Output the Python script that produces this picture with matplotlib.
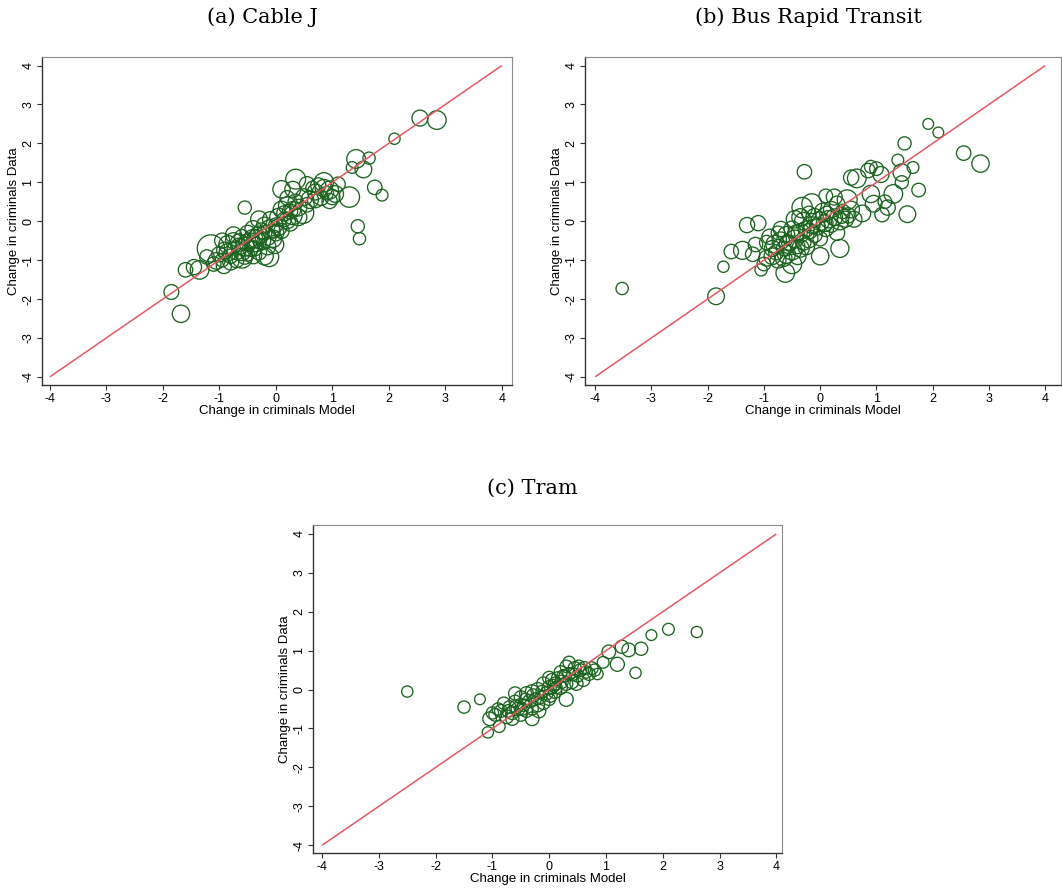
import matplotlib
matplotlib.use("Agg")
import matplotlib.pyplot as plt
import numpy as np

# ---------------------------------------------------------------
# Data: change in criminals, model prediction (x) vs data (y),
# with a weight per neighbourhood that sets the circle size.
# ---------------------------------------------------------------

# (a) Cable J
cable_x = [2.85, 2.55, 2.10, 1.65, 1.42, 1.55, 1.35, 1.75, 1.88, 1.45, 1.48, 1.30,
           1.10, 1.00, 0.90, 0.85, 0.75, 0.65, 0.95, 0.35, 0.30, 0.10, 0.50, 0.48,
           0.55, 0.30, 0.20, -0.55, -1.15, -1.22, -1.05, -1.35, -1.60, -1.45, -1.85,
           -1.68, -0.12, -0.60, -0.40, -0.80, -0.92,
           -1.00, -0.95, -0.90, -0.85, -0.80, -0.75, -0.70, -0.70, -0.65, -0.60,
           -0.60, -0.55, -0.50, -0.50, -0.50, -0.45, -0.40, -0.40, -0.35, -0.30,
           -0.30, -0.25, -0.20, -0.20, -0.15, -0.10, -0.10, -0.05, 0.00, 0.00,
           0.05, 0.10, 0.10, 0.15, 0.20, 0.25, 0.30, 0.35, 0.40, 0.60, 0.70,
           0.80, 0.95, 1.05, 0.55, 0.20, -0.30, -0.75, -0.95, -1.10, -0.20,
           -0.65, -0.45, -0.35, -0.25, -0.15, -0.05, 0.05, 0.15, -0.85, -0.55,
           0.25, 0.40, 0.70, 0.85, -0.02, -0.38]
cable_y = [2.60, 2.65, 2.12, 1.62, 1.60, 1.33, 1.38, 0.87, 0.67, -0.13, -0.45, 0.62,
           0.95, 0.62, 0.72, 1.00, 0.92, 0.85, 0.52, 1.08, 0.82, 0.82, 0.62, 0.22,
           0.42, 0.30, 0.02, 0.35, -0.70, -0.92, -1.02, -1.25, -1.25, -1.18, -1.82,
           -2.38, -0.92, -0.95, -0.88, -1.05, -1.15,
           -0.85, -1.00, -0.75, -0.60, -0.90, -0.50, -0.75, -1.00, -0.55, -0.40,
           -0.80, -0.65, -0.30, -0.55, -0.85, -0.70, -0.45, -0.20, -0.60, -0.35,
           -0.80, -0.50, -0.10, -0.30, -0.65, -0.20, 0.05, -0.45, -0.10, -0.30,
           0.10, -0.25, 0.30, 0.05, 0.40, -0.05, 0.15, 0.50, 0.35, 0.55, 0.75,
           0.60, 0.80, 0.70, 0.95, 0.60, 0.05, -0.35, -0.50, -1.10, -0.90,
           -0.65, -0.50, -0.45, -0.25, -0.40, -0.25, -0.15, 0.20, -0.80, -0.90,
           0.25, 0.10, 0.55, 0.85, -0.60, -0.70]
cable_w = [3.0, 2.2, 1.1, 1.3, 3.0, 2.4, 1.2, 1.8, 1.2, 1.5, 1.3, 3.6,
           1.8, 2.0, 1.6, 3.2, 2.0, 1.6, 2.0, 3.4, 2.2, 2.6, 2.4, 4.0,
           1.8, 2.2, 2.4, 1.5, 6.4, 1.8, 2.4, 3.0, 1.8, 2.0, 1.9,
           2.6, 3.2, 3.4, 2.4, 2.2, 2.0,
           2.0, 1.6, 2.4, 2.8, 1.8, 2.2, 3.0, 2.0, 2.6, 1.8,
           2.4, 3.2, 2.0, 2.6, 1.6, 2.2, 3.0, 2.4, 1.8, 2.6,
           2.0, 2.8, 2.2, 1.8, 2.4, 3.0, 2.0, 2.6, 1.8, 2.2,
           2.8, 2.0, 2.4, 1.8, 2.6, 2.2, 3.0, 2.0, 2.4, 2.6, 2.2,
           2.0, 2.8, 2.4, 2.0, 1.8, 2.4, 2.2, 2.0, 1.8, 2.6,
           2.4, 2.0, 2.8, 2.2, 2.6, 1.8, 2.4, 2.0, 2.6, 2.2,
           2.0, 2.4, 2.2, 2.6, 2.8, 2.0]

# (b) Bus Rapid Transit
brt_x = [-3.52, -1.85, -1.72, -1.58, -1.38, -1.30, -1.10, -1.20, -1.05, -1.00,
         -0.95, -0.85, -0.75, -0.65, -0.62, -0.50, -0.28, 0.00, 0.35, 1.10,
         1.55, 1.75, 1.45, 1.65, 1.38, 1.50, 1.92, 2.10, 2.55, 2.85,
         1.30, 1.15, 0.90, 0.75, 0.85, 0.65, 0.55, 0.90, 1.00, 1.08,
         1.45, 0.48, 0.50, 0.25, 0.10, -0.15, -0.32, -0.35,
         -0.90, -0.85, -0.80, -0.75, -0.70, -0.65, -0.60, -0.60, -0.55, -0.50,
         -0.50, -0.45, -0.40, -0.40, -0.35, -0.30, -0.30, -0.25, -0.20, -0.20,
         -0.15, -0.10, -0.10, -0.05, 0.00, 0.00, 0.05, 0.10, 0.15, 0.20,
         0.20, 0.25, 0.30, 0.35, 0.40, 0.45, 0.55, -0.45, -0.70, -1.15,
         -0.95, -0.25, 0.30, 0.60,
         -0.58, -0.42, -0.18, 0.08, 0.38, -0.78, -0.35, 0.12, 1.20, 0.95]
brt_y = [-1.73, -1.93, -1.17, -0.78, -0.75, -0.10, -0.05, -0.85, -1.25, -1.10,
         -0.55, -0.70, -0.30, -0.95, -1.33, -1.10, 1.27, -0.90, -0.70, 0.17,
         0.18, 0.80, 1.00, 1.38, 1.57, 2.00, 2.50, 2.28, 1.75, 1.48,
         0.70, 0.50, 0.70, 0.20, 1.30, 1.10, 1.12, 1.40, 1.35, 1.20,
         1.25, 0.55, 0.15, 0.62, 0.65, 0.45, 0.35, 0.10,
         -0.40, -0.90, -0.60, -1.00, -0.50, -0.70, -0.35, -0.85, -0.55, -0.75,
         -0.20, -0.45, -0.65, -0.90, -0.30, -0.55, 0.00, -0.20, -0.45, 0.20,
         -0.10, -0.35, 0.10, -0.15, 0.00, -0.45, 0.25, -0.20, 0.05, 0.30,
         -0.10, 0.10, 0.45, 0.00, 0.25, 0.05, 0.30, 0.05, -0.20, -0.60,
         -0.95, -0.65, -0.30, 0.05,
         -0.60, -0.30, -0.25, -0.05, 0.15, -0.80, -0.70, 0.20, 0.35, 0.45]
brt_w = [1.3, 2.4, 1.1, 1.8, 2.8, 2.0, 2.0, 1.8, 1.3, 1.6,
         1.8, 2.2, 1.6, 2.4, 3.0, 3.2, 1.8, 2.6, 2.8, 1.8,
         2.4, 1.6, 1.5, 1.2, 1.2, 1.5, 1.0, 1.0, 1.8, 2.6,
         3.0, 1.6, 2.6, 2.4, 1.8, 3.0, 2.0, 1.4, 1.6, 2.2,
         2.6, 3.4, 2.0, 2.2, 1.6, 3.4, 3.6, 2.6,
         2.0, 2.4, 3.0, 2.2, 2.6, 1.8, 2.4, 2.8, 2.0, 3.2,
         2.2, 2.6, 1.8, 2.4, 3.0, 2.0, 2.6, 2.2, 2.8, 1.8,
         2.4, 2.0, 2.6, 2.2, 3.0, 1.8, 2.4, 2.0, 2.6, 2.2,
         1.8, 2.4, 2.0, 2.6, 1.8, 2.2, 2.4, 2.6, 2.0, 1.8,
         2.2, 2.4, 2.0, 2.2,
         2.6, 2.2, 2.0, 2.4, 2.2, 2.0, 2.6, 1.8, 2.0, 2.4]

# (c) Tram
tram_x = [-2.50, -1.50, -1.22, -1.08, -0.88, -1.05, -1.00, -0.90, 2.60, 2.10,
          1.80, 1.62, 1.40, 1.28, 1.52, 1.20, 1.05, 0.85, 0.95, -0.30, 0.30,
          -0.85, -0.80, -0.75, -0.70, -0.65, -0.60, -0.55, -0.50, -0.50, -0.45,
          -0.40, -0.40, -0.35, -0.30, -0.30, -0.25, -0.20, -0.20, -0.15, -0.10,
          -0.10, -0.05, 0.00, 0.00, 0.05, 0.10, 0.10, 0.15, 0.20, 0.25,
          0.30, 0.30, 0.35, 0.40, 0.45, 0.50, 0.55, 0.60, 0.65, 0.75,
          0.00, 0.35, 0.20, -0.60,
          -0.72, -0.58, -0.42, -0.28, -0.12, 0.02, 0.12, 0.22, 0.42, 0.52,
          0.62, 0.70, 0.80, -0.95, -0.65, -0.18, 0.08, 0.28, 0.48, -0.48]
tram_y = [-0.05, -0.45, -0.25, -1.10, -0.95, -0.75, -0.60, -0.50, 1.48, 1.55,
          1.40, 1.05, 1.02, 1.10, 0.43, 0.65, 0.97, 0.40, 0.70, -0.75, -0.25,
          -0.55, -0.35, -0.70, -0.45, -0.60, -0.30, -0.50, -0.65, -0.20, -0.40,
          -0.10, -0.55, -0.30, -0.50, -0.05, -0.25, -0.40, 0.00, -0.20, 0.15,
          -0.35, -0.10, 0.05, -0.25, 0.25, -0.05, 0.15, 0.30, 0.05, 0.35,
          0.15, 0.60, 0.40, 0.20, 0.55, 0.35, 0.50, 0.25, 0.45, 0.55,
          0.30, 0.70, 0.45, -0.10,
          -0.55, -0.45, -0.25, -0.15, -0.05, -0.15, 0.05, 0.20, 0.40, 0.60,
          0.55, 0.40, 0.50, -0.65, -0.75, -0.55, 0.10, 0.35, 0.15, -0.50]
tram_w = [1.1, 1.3, 1.0, 1.1, 1.2, 1.6, 1.3, 1.3, 1.1, 1.2,
          1.0, 1.5, 1.6, 1.5, 1.1, 1.7, 1.6, 1.1, 1.2, 1.6, 1.7,
          1.4, 1.3, 1.6, 1.4, 1.5, 1.3, 1.6, 1.4, 1.5, 1.3,
          1.6, 1.4, 1.5, 1.3, 1.6, 1.4, 1.5, 1.7, 1.3, 1.6,
          1.4, 1.5, 1.7, 1.3, 1.4, 1.6, 1.5, 1.3, 1.6, 1.4,
          1.5, 1.3, 1.4, 1.6, 1.5, 1.3, 1.4, 1.5, 1.3, 1.4,
          1.5, 1.3, 1.4, 1.5,
          1.4, 1.6, 1.3, 1.5, 1.4, 1.6, 1.3, 1.5, 1.4, 1.3,
          1.5, 1.4, 1.3, 1.4, 1.5, 1.6, 1.4, 1.3, 1.5, 1.4]

panel_titles = ["(a) Cable J", "(b) Bus Rapid Transit", "(c) Tram"]
ticks = [-4, -3, -2, -1, 0, 1, 2, 3, 4]
xlabel = "Change in criminals Model"
ylabel = "Change in criminals Data"

# ---------------------------------------------------------------
W, H = 1062, 892
fig = plt.figure(figsize=(W / 100, H / 100), dpi=100)
fig.patch.set_facecolor("white")

SANS = "Liberation Sans"
SERIF = "DejaVu Serif"
EDGE = "#1c6420"
LINE = "#e85862"


def px_axes(left, top, right, bottom):
    return fig.add_axes([left / W, 1 - bottom / H, (right - left) / W, (bottom - top) / H])


def draw_panel(ax, x, y, w, xlim, ylim):
    ends = [ticks[0], ticks[-1]]
    ax.plot(ends, ends, color=LINE, lw=1.1, zorder=3, solid_capstyle="butt")
    ax.scatter(x, y, s=np.asarray(w) * 60, facecolors="none", edgecolors=EDGE,
               linewidths=0.95, zorder=2)
    ax.set_xlim(*xlim)
    ax.set_ylim(*ylim)
    ax.set_xticks(ticks)
    ax.set_yticks(ticks)
    ax.set_xticklabels([str(t) for t in ticks], fontsize=9, family=SANS)
    ax.set_yticklabels([str(t) for t in ticks], fontsize=9, family=SANS,
                       rotation=90, va="center")
    ax.tick_params(direction="out", length=3.5, width=0.8, color="#333333", pad=2)
    ax.set_xlabel(xlabel, fontsize=9.5, family=SANS, labelpad=0)
    ax.set_ylabel(ylabel, fontsize=9.5, family=SANS, labelpad=2)
    for side in ("left", "bottom"):
        ax.spines[side].set_color("#333333")
        ax.spines[side].set_linewidth(1.0)
    for side in ("top", "right"):
        ax.spines[side].set_color("#8a8a8a")
        ax.spines[side].set_linewidth(0.8)


ax_a = px_axes(42, 57, 512, 385)
draw_panel(ax_a, cable_x, cable_y, cable_w, (-4.14, 4.18), (-4.21, 4.22))

ax_b = px_axes(585, 57, 1061, 385)
draw_panel(ax_b, brt_x, brt_y, brt_w, (-4.18, 4.28), (-4.21, 4.22))

ax_c = px_axes(313, 525, 782, 853)
draw_panel(ax_c, tram_x, tram_y, tram_w, (-4.16, 4.10), (-4.20, 4.23))

fig.text(262 / W, 1 - 17 / H, panel_titles[0], ha="center", va="center",
         fontsize=15, family=SERIF)
fig.text(808 / W, 1 - 17 / H, panel_titles[1], ha="center", va="center",
         fontsize=15, family=SERIF)
fig.text(532 / W, 1 - 488 / H, panel_titles[2], ha="center", va="center",
         fontsize=15, family=SERIF)

fig.savefig("out.png", dpi=100, facecolor="white")
